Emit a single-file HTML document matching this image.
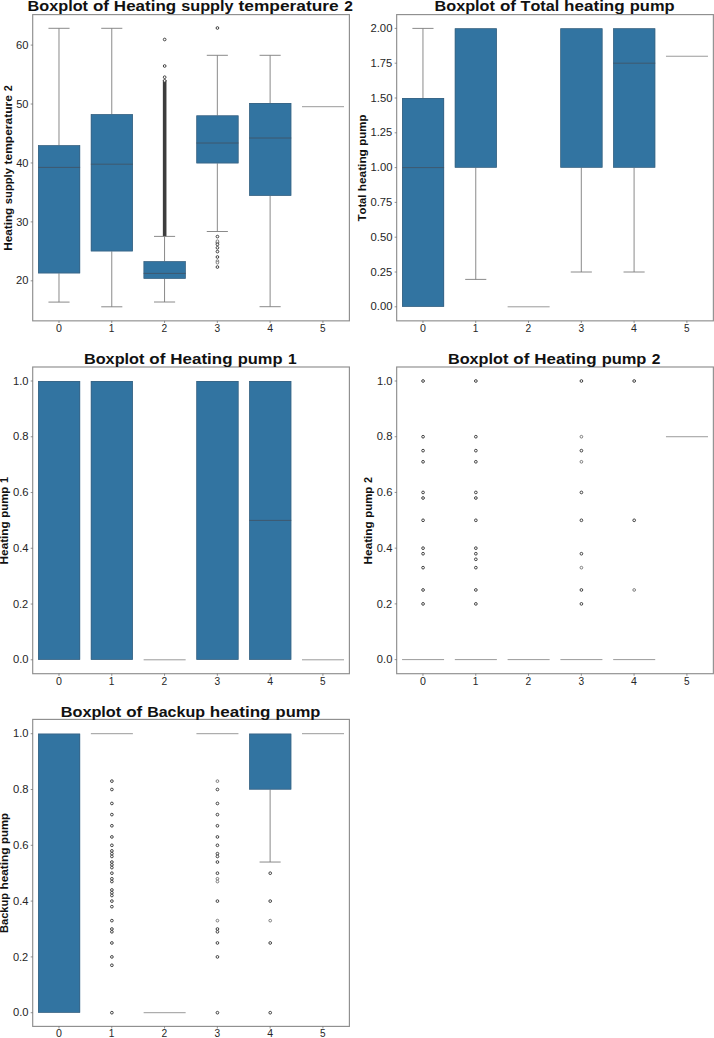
<!DOCTYPE html>
<html><head><meta charset="utf-8"><title>Boxplots</title>
<style>
html,body{margin:0;padding:0;background:#fff;}
body{width:714px;height:1038px;overflow:hidden;font-family:"Liberation Sans",sans-serif;}
svg{display:block;}
text{font-family:"Liberation Sans",sans-serif;fill:#262626;font-kerning:none;}
.t{font-size:10.7px;}
.ti{font-size:14.9px;font-weight:bold;fill:#111;}
.yl{font-size:10.3px;font-weight:bold;fill:#111;}
.o{fill:#fff;stroke:#404040;stroke-width:1;}
.ol{fill:#fff;stroke:#7c7c7c;stroke-width:1;}
</style></head><body>
<svg width="714" height="1038" viewBox="0 0 714 1038">
<rect width="714" height="1038" fill="#fff"/>
<rect x="32.7" y="14.6" width="316.7" height="306.25" fill="none" stroke="#8e8e8e" stroke-width="1.15"/>
<line x1="58.99" y1="320.85" x2="58.99" y2="322.95" stroke="#666" stroke-width="0.7"/>
<text x="55.97" y="331.7" class="t" textLength="5.92" lengthAdjust="spacingAndGlyphs">0</text>
<line x1="111.78" y1="320.85" x2="111.78" y2="322.95" stroke="#666" stroke-width="0.7"/>
<text x="108.87" y="331.7" class="t" textLength="5.63" lengthAdjust="spacingAndGlyphs">1</text>
<line x1="164.56" y1="320.85" x2="164.56" y2="322.95" stroke="#666" stroke-width="0.7"/>
<text x="161.53" y="331.7" class="t" textLength="5.69" lengthAdjust="spacingAndGlyphs">2</text>
<line x1="217.34" y1="320.85" x2="217.34" y2="322.95" stroke="#666" stroke-width="0.7"/>
<text x="214.46" y="331.7" class="t" textLength="5.65" lengthAdjust="spacingAndGlyphs">3</text>
<line x1="270.12" y1="320.85" x2="270.12" y2="322.95" stroke="#666" stroke-width="0.7"/>
<text x="267.14" y="331.7" class="t" textLength="5.87" lengthAdjust="spacingAndGlyphs">4</text>
<line x1="322.91" y1="320.85" x2="322.91" y2="322.95" stroke="#666" stroke-width="0.7"/>
<text x="320.04" y="331.7" class="t" textLength="5.57" lengthAdjust="spacingAndGlyphs">5</text>
<line x1="30.7" y1="45.1" x2="32.7" y2="45.1" stroke="#666" stroke-width="0.7"/>
<text x="16.04" y="48.75" class="t" textLength="12.45" lengthAdjust="spacingAndGlyphs">60</text>
<line x1="30.7" y1="104.03" x2="32.7" y2="104.03" stroke="#666" stroke-width="0.7"/>
<text x="16.24" y="107.68" class="t" textLength="12.25" lengthAdjust="spacingAndGlyphs">50</text>
<line x1="30.7" y1="162.96" x2="32.7" y2="162.96" stroke="#666" stroke-width="0.7"/>
<text x="16.15" y="166.61" class="t" textLength="12.34" lengthAdjust="spacingAndGlyphs">40</text>
<line x1="30.7" y1="221.89" x2="32.7" y2="221.89" stroke="#666" stroke-width="0.7"/>
<text x="16.24" y="225.54" class="t" textLength="12.24" lengthAdjust="spacingAndGlyphs">30</text>
<line x1="30.7" y1="280.82" x2="32.7" y2="280.82" stroke="#666" stroke-width="0.7"/>
<text x="16.07" y="284.47" class="t" textLength="12.42" lengthAdjust="spacingAndGlyphs">20</text>
<text x="27.54" y="10.7" class="ti" textLength="60.46" lengthAdjust="spacingAndGlyphs">Boxplot</text>
<text x="92.95" y="10.7" class="ti" textLength="16.01" lengthAdjust="spacingAndGlyphs">of</text>
<text x="113.89" y="10.7" class="ti" textLength="62.26" lengthAdjust="spacingAndGlyphs">Heating</text>
<text x="181.3" y="10.7" class="ti" textLength="52.22" lengthAdjust="spacingAndGlyphs">supply</text>
<text x="238.56" y="10.7" class="ti" textLength="100.18" lengthAdjust="spacingAndGlyphs">temperature</text>
<text x="344.35" y="10.7" class="ti" textLength="8.65" lengthAdjust="spacingAndGlyphs">2</text>
<g transform="translate(12.05 250.96) rotate(-90)">
<text x="0.11" y="0" class="yl" textLength="43.11" lengthAdjust="spacingAndGlyphs">Heating</text>
<text x="46.79" y="0" class="yl" textLength="36.16" lengthAdjust="spacingAndGlyphs">supply</text>
<text x="86.44" y="0" class="yl" textLength="69.37" lengthAdjust="spacingAndGlyphs">temperature</text>
<text x="159.7" y="0" class="yl" textLength="5.99" lengthAdjust="spacingAndGlyphs">2</text>
</g>
<path d="M58.99 28.3V145.3M48.44 28.3H69.55" stroke="#7d7d7d" stroke-width="0.9" fill="none"/>
<path d="M58.99 273.3V302.1M48.44 302.1H69.55" stroke="#7d7d7d" stroke-width="0.9" fill="none"/>
<rect x="38.08" y="145.3" width="42.03" height="128" fill="#3274a1"/>
<rect x="38.38" y="145.6" width="41.43" height="127.4" fill="none" stroke="#3d5f7a" stroke-width="0.6"/>
<line x1="38.08" y1="167.4" x2="80.11" y2="167.4" stroke="#3f566a" stroke-width="0.9"/>
<path d="M111.78 28.3V114.2M101.22 28.3H122.33" stroke="#7d7d7d" stroke-width="0.9" fill="none"/>
<path d="M111.78 251.3V306.8M101.22 306.8H122.33" stroke="#7d7d7d" stroke-width="0.9" fill="none"/>
<rect x="90.86" y="114.2" width="42.03" height="137.1" fill="#3274a1"/>
<rect x="91.16" y="114.5" width="41.43" height="136.5" fill="none" stroke="#3d5f7a" stroke-width="0.6"/>
<line x1="90.86" y1="164.2" x2="132.89" y2="164.2" stroke="#3f566a" stroke-width="0.9"/>
<rect x="162.86" y="80" width="3.6" height="156.3" fill="#3d3d3d"/>
<circle cx="164.66" cy="39.5" r="1.35" class="o"/>
<circle cx="164.66" cy="66" r="1.35" class="o"/>
<circle cx="164.66" cy="77.2" r="1.35" class="o"/>
<circle cx="164.66" cy="80.8" r="1.35" class="o"/>
<path d="M164.56 236.4V261.3M154 236.4H175.11" stroke="#7d7d7d" stroke-width="0.9" fill="none"/>
<path d="M164.56 278.7V302M154 302H175.11" stroke="#7d7d7d" stroke-width="0.9" fill="none"/>
<rect x="143.64" y="261.3" width="42.03" height="17.4" fill="#3274a1"/>
<rect x="143.94" y="261.6" width="41.43" height="16.8" fill="none" stroke="#3d5f7a" stroke-width="0.6"/>
<line x1="143.64" y1="273.4" x2="185.67" y2="273.4" stroke="#3f566a" stroke-width="0.9"/>
<circle cx="217.44" cy="28" r="1.35" class="o"/>
<path d="M217.34 55.3V115.5M206.78 55.3H227.9" stroke="#7d7d7d" stroke-width="0.9" fill="none"/>
<path d="M217.34 163.3V231.5M206.78 231.5H227.9" stroke="#7d7d7d" stroke-width="0.9" fill="none"/>
<rect x="196.43" y="115.5" width="42.03" height="47.8" fill="#3274a1"/>
<rect x="196.73" y="115.8" width="41.43" height="47.2" fill="none" stroke="#3d5f7a" stroke-width="0.6"/>
<line x1="196.43" y1="143" x2="238.45" y2="143" stroke="#3f566a" stroke-width="0.9"/>
<circle cx="217.44" cy="236.6" r="1.35" class="o"/>
<circle cx="217.44" cy="242.8" r="1.35" class="o"/>
<circle cx="217.44" cy="244.4" r="1.35" class="o"/>
<circle cx="217.44" cy="247.8" r="1.35" class="o"/>
<circle cx="217.44" cy="251.6" r="1.35" class="o"/>
<circle cx="217.44" cy="257" r="1.35" class="o"/>
<circle cx="217.44" cy="267.05" r="1.35" class="o"/>
<circle cx="217.44" cy="241.2" r="1.35" class="ol"/>
<circle cx="217.44" cy="261.1" r="1.35" class="ol"/>
<circle cx="217.44" cy="262.7" r="1.35" class="ol"/>
<path d="M270.12 55.3V103M259.57 55.3H280.68" stroke="#7d7d7d" stroke-width="0.9" fill="none"/>
<path d="M270.12 195.8V306.7M259.57 306.7H280.68" stroke="#7d7d7d" stroke-width="0.9" fill="none"/>
<rect x="249.21" y="103" width="42.03" height="92.8" fill="#3274a1"/>
<rect x="249.51" y="103.3" width="41.43" height="92.2" fill="none" stroke="#3d5f7a" stroke-width="0.6"/>
<line x1="249.21" y1="138" x2="291.24" y2="138" stroke="#3f566a" stroke-width="0.9"/>
<line x1="302" y1="106.7" x2="344.02" y2="106.7" stroke="#8f8f8f" stroke-width="0.9"/>
<rect x="396.67" y="14.6" width="316.7" height="306.25" fill="none" stroke="#8e8e8e" stroke-width="1.15"/>
<line x1="422.96" y1="320.85" x2="422.96" y2="322.95" stroke="#666" stroke-width="0.7"/>
<text x="419.94" y="331.7" class="t" textLength="5.92" lengthAdjust="spacingAndGlyphs">0</text>
<line x1="475.75" y1="320.85" x2="475.75" y2="322.95" stroke="#666" stroke-width="0.7"/>
<text x="472.84" y="331.7" class="t" textLength="5.63" lengthAdjust="spacingAndGlyphs">1</text>
<line x1="528.53" y1="320.85" x2="528.53" y2="322.95" stroke="#666" stroke-width="0.7"/>
<text x="525.5" y="331.7" class="t" textLength="5.69" lengthAdjust="spacingAndGlyphs">2</text>
<line x1="581.31" y1="320.85" x2="581.31" y2="322.95" stroke="#666" stroke-width="0.7"/>
<text x="578.43" y="331.7" class="t" textLength="5.65" lengthAdjust="spacingAndGlyphs">3</text>
<line x1="634.09" y1="320.85" x2="634.09" y2="322.95" stroke="#666" stroke-width="0.7"/>
<text x="631.11" y="331.7" class="t" textLength="5.87" lengthAdjust="spacingAndGlyphs">4</text>
<line x1="686.88" y1="320.85" x2="686.88" y2="322.95" stroke="#666" stroke-width="0.7"/>
<text x="684.01" y="331.7" class="t" textLength="5.57" lengthAdjust="spacingAndGlyphs">5</text>
<line x1="394.67" y1="28.4" x2="396.67" y2="28.4" stroke="#666" stroke-width="0.7"/>
<text x="370.43" y="32.05" class="t" textLength="22" lengthAdjust="spacingAndGlyphs">2.00</text>
<line x1="394.67" y1="63.2" x2="396.67" y2="63.2" stroke="#666" stroke-width="0.7"/>
<text x="370.54" y="66.85" class="t" textLength="21.72" lengthAdjust="spacingAndGlyphs">1.75</text>
<line x1="394.67" y1="98" x2="396.67" y2="98" stroke="#666" stroke-width="0.7"/>
<text x="370.53" y="101.65" class="t" textLength="21.9" lengthAdjust="spacingAndGlyphs">1.50</text>
<line x1="394.67" y1="132.8" x2="396.67" y2="132.8" stroke="#666" stroke-width="0.7"/>
<text x="370.54" y="136.45" class="t" textLength="21.72" lengthAdjust="spacingAndGlyphs">1.25</text>
<line x1="394.67" y1="167.6" x2="396.67" y2="167.6" stroke="#666" stroke-width="0.7"/>
<text x="370.53" y="171.25" class="t" textLength="21.9" lengthAdjust="spacingAndGlyphs">1.00</text>
<line x1="394.67" y1="202.4" x2="396.67" y2="202.4" stroke="#666" stroke-width="0.7"/>
<text x="370.48" y="206.05" class="t" textLength="21.79" lengthAdjust="spacingAndGlyphs">0.75</text>
<line x1="394.67" y1="237.2" x2="396.67" y2="237.2" stroke="#666" stroke-width="0.7"/>
<text x="370.47" y="240.85" class="t" textLength="21.97" lengthAdjust="spacingAndGlyphs">0.50</text>
<line x1="394.67" y1="272" x2="396.67" y2="272" stroke="#666" stroke-width="0.7"/>
<text x="370.48" y="275.65" class="t" textLength="21.79" lengthAdjust="spacingAndGlyphs">0.25</text>
<line x1="394.67" y1="306.8" x2="396.67" y2="306.8" stroke="#666" stroke-width="0.7"/>
<text x="370.47" y="310.45" class="t" textLength="21.97" lengthAdjust="spacingAndGlyphs">0.00</text>
<text x="434.5" y="10.7" class="ti" textLength="60.46" lengthAdjust="spacingAndGlyphs">Boxplot</text>
<text x="499.91" y="10.7" class="ti" textLength="16.01" lengthAdjust="spacingAndGlyphs">of</text>
<text x="520.55" y="10.7" class="ti" textLength="38.61" lengthAdjust="spacingAndGlyphs">Total</text>
<text x="564.06" y="10.7" class="ti" textLength="60.68" lengthAdjust="spacingAndGlyphs">heating</text>
<text x="629.82" y="10.7" class="ti" textLength="44.77" lengthAdjust="spacingAndGlyphs">pump</text>
<g transform="translate(366 221.2) rotate(-90)">
<text x="-0.1" y="0" class="yl" textLength="26.74" lengthAdjust="spacingAndGlyphs">Total</text>
<text x="30.03" y="0" class="yl" textLength="42.02" lengthAdjust="spacingAndGlyphs">heating</text>
<text x="75.57" y="0" class="yl" textLength="31" lengthAdjust="spacingAndGlyphs">pump</text>
</g>
<path d="M422.96 28.4V98M412.4 28.4H433.52" stroke="#7d7d7d" stroke-width="0.9" fill="none"/>
<rect x="402.05" y="98" width="42.03" height="208.8" fill="#3274a1"/>
<rect x="402.35" y="98.3" width="41.43" height="208.2" fill="none" stroke="#3d5f7a" stroke-width="0.6"/>
<line x1="402.05" y1="167.6" x2="444.07" y2="167.6" stroke="#3f566a" stroke-width="0.9"/>
<path d="M475.75 167.6V279.4M465.19 279.4H486.3" stroke="#7d7d7d" stroke-width="0.9" fill="none"/>
<rect x="454.83" y="28.4" width="42.03" height="139.2" fill="#3274a1"/>
<rect x="455.13" y="28.7" width="41.43" height="138.6" fill="none" stroke="#3d5f7a" stroke-width="0.6"/>
<line x1="507.62" y1="306.8" x2="549.64" y2="306.8" stroke="#8f8f8f" stroke-width="0.9"/>
<path d="M581.31 167.6V272M570.75 272H591.87" stroke="#7d7d7d" stroke-width="0.9" fill="none"/>
<rect x="560.4" y="28.4" width="42.03" height="139.2" fill="#3274a1"/>
<rect x="560.7" y="28.7" width="41.43" height="138.6" fill="none" stroke="#3d5f7a" stroke-width="0.6"/>
<path d="M634.09 167.6V272M623.54 272H644.65" stroke="#7d7d7d" stroke-width="0.9" fill="none"/>
<rect x="613.18" y="28.4" width="42.03" height="139.2" fill="#3274a1"/>
<rect x="613.48" y="28.7" width="41.43" height="138.6" fill="none" stroke="#3d5f7a" stroke-width="0.6"/>
<line x1="613.18" y1="63.2" x2="655.21" y2="63.2" stroke="#3f566a" stroke-width="0.9"/>
<line x1="665.97" y1="56.24" x2="707.99" y2="56.24" stroke="#8f8f8f" stroke-width="0.9"/>
<rect x="32.7" y="367" width="316.7" height="306.7" fill="none" stroke="#8e8e8e" stroke-width="1.15"/>
<line x1="58.99" y1="673.7" x2="58.99" y2="675.8" stroke="#666" stroke-width="0.7"/>
<text x="55.97" y="684.55" class="t" textLength="5.92" lengthAdjust="spacingAndGlyphs">0</text>
<line x1="111.78" y1="673.7" x2="111.78" y2="675.8" stroke="#666" stroke-width="0.7"/>
<text x="108.87" y="684.55" class="t" textLength="5.63" lengthAdjust="spacingAndGlyphs">1</text>
<line x1="164.56" y1="673.7" x2="164.56" y2="675.8" stroke="#666" stroke-width="0.7"/>
<text x="161.53" y="684.55" class="t" textLength="5.69" lengthAdjust="spacingAndGlyphs">2</text>
<line x1="217.34" y1="673.7" x2="217.34" y2="675.8" stroke="#666" stroke-width="0.7"/>
<text x="214.46" y="684.55" class="t" textLength="5.65" lengthAdjust="spacingAndGlyphs">3</text>
<line x1="270.12" y1="673.7" x2="270.12" y2="675.8" stroke="#666" stroke-width="0.7"/>
<text x="267.14" y="684.55" class="t" textLength="5.87" lengthAdjust="spacingAndGlyphs">4</text>
<line x1="322.91" y1="673.7" x2="322.91" y2="675.8" stroke="#666" stroke-width="0.7"/>
<text x="320.04" y="684.55" class="t" textLength="5.57" lengthAdjust="spacingAndGlyphs">5</text>
<line x1="30.7" y1="381" x2="32.7" y2="381" stroke="#666" stroke-width="0.7"/>
<text x="12.97" y="384.65" class="t" textLength="15.49" lengthAdjust="spacingAndGlyphs">1.0</text>
<line x1="30.7" y1="436.76" x2="32.7" y2="436.76" stroke="#666" stroke-width="0.7"/>
<text x="12.91" y="440.41" class="t" textLength="15.59" lengthAdjust="spacingAndGlyphs">0.8</text>
<line x1="30.7" y1="492.52" x2="32.7" y2="492.52" stroke="#666" stroke-width="0.7"/>
<text x="12.9" y="496.17" class="t" textLength="15.64" lengthAdjust="spacingAndGlyphs">0.6</text>
<line x1="30.7" y1="548.28" x2="32.7" y2="548.28" stroke="#666" stroke-width="0.7"/>
<text x="12.91" y="551.93" class="t" textLength="15.55" lengthAdjust="spacingAndGlyphs">0.4</text>
<line x1="30.7" y1="604.04" x2="32.7" y2="604.04" stroke="#666" stroke-width="0.7"/>
<text x="12.91" y="607.69" class="t" textLength="15.33" lengthAdjust="spacingAndGlyphs">0.2</text>
<line x1="30.7" y1="659.8" x2="32.7" y2="659.8" stroke="#666" stroke-width="0.7"/>
<text x="12.91" y="663.45" class="t" textLength="15.56" lengthAdjust="spacingAndGlyphs">0.0</text>
<text x="83.98" y="363.65" class="ti" textLength="60.46" lengthAdjust="spacingAndGlyphs">Boxplot</text>
<text x="149.39" y="363.65" class="ti" textLength="16.01" lengthAdjust="spacingAndGlyphs">of</text>
<text x="170.33" y="363.65" class="ti" textLength="62.26" lengthAdjust="spacingAndGlyphs">Heating</text>
<text x="237.7" y="363.65" class="ti" textLength="44.77" lengthAdjust="spacingAndGlyphs">pump</text>
<text x="287.94" y="363.65" class="ti" textLength="8.67" lengthAdjust="spacingAndGlyphs">1</text>
<g transform="translate(8.3 564.5) rotate(-90)">
<text x="0.11" y="0" class="yl" textLength="43.11" lengthAdjust="spacingAndGlyphs">Heating</text>
<text x="46.76" y="0" class="yl" textLength="31" lengthAdjust="spacingAndGlyphs">pump</text>
<text x="81.55" y="0" class="yl" textLength="6.01" lengthAdjust="spacingAndGlyphs">1</text>
</g>
<rect x="38.08" y="381" width="42.03" height="278.8" fill="#3274a1"/>
<rect x="38.38" y="381.3" width="41.43" height="278.2" fill="none" stroke="#3d5f7a" stroke-width="0.6"/>
<rect x="90.86" y="381" width="42.03" height="278.8" fill="#3274a1"/>
<rect x="91.16" y="381.3" width="41.43" height="278.2" fill="none" stroke="#3d5f7a" stroke-width="0.6"/>
<line x1="143.64" y1="659.8" x2="185.67" y2="659.8" stroke="#8f8f8f" stroke-width="0.9"/>
<rect x="196.43" y="381" width="42.03" height="278.8" fill="#3274a1"/>
<rect x="196.73" y="381.3" width="41.43" height="278.2" fill="none" stroke="#3d5f7a" stroke-width="0.6"/>
<rect x="249.21" y="381" width="42.03" height="278.8" fill="#3274a1"/>
<rect x="249.51" y="381.3" width="41.43" height="278.2" fill="none" stroke="#3d5f7a" stroke-width="0.6"/>
<line x1="249.21" y1="520.4" x2="291.24" y2="520.4" stroke="#3f566a" stroke-width="0.9"/>
<line x1="302" y1="659.8" x2="344.02" y2="659.8" stroke="#8f8f8f" stroke-width="0.9"/>
<rect x="396.67" y="367" width="316.7" height="306.7" fill="none" stroke="#8e8e8e" stroke-width="1.15"/>
<line x1="422.96" y1="673.7" x2="422.96" y2="675.8" stroke="#666" stroke-width="0.7"/>
<text x="419.94" y="684.55" class="t" textLength="5.92" lengthAdjust="spacingAndGlyphs">0</text>
<line x1="475.75" y1="673.7" x2="475.75" y2="675.8" stroke="#666" stroke-width="0.7"/>
<text x="472.84" y="684.55" class="t" textLength="5.63" lengthAdjust="spacingAndGlyphs">1</text>
<line x1="528.53" y1="673.7" x2="528.53" y2="675.8" stroke="#666" stroke-width="0.7"/>
<text x="525.5" y="684.55" class="t" textLength="5.69" lengthAdjust="spacingAndGlyphs">2</text>
<line x1="581.31" y1="673.7" x2="581.31" y2="675.8" stroke="#666" stroke-width="0.7"/>
<text x="578.43" y="684.55" class="t" textLength="5.65" lengthAdjust="spacingAndGlyphs">3</text>
<line x1="634.09" y1="673.7" x2="634.09" y2="675.8" stroke="#666" stroke-width="0.7"/>
<text x="631.11" y="684.55" class="t" textLength="5.87" lengthAdjust="spacingAndGlyphs">4</text>
<line x1="686.88" y1="673.7" x2="686.88" y2="675.8" stroke="#666" stroke-width="0.7"/>
<text x="684.01" y="684.55" class="t" textLength="5.57" lengthAdjust="spacingAndGlyphs">5</text>
<line x1="394.67" y1="381" x2="396.67" y2="381" stroke="#666" stroke-width="0.7"/>
<text x="376.94" y="384.65" class="t" textLength="15.49" lengthAdjust="spacingAndGlyphs">1.0</text>
<line x1="394.67" y1="436.72" x2="396.67" y2="436.72" stroke="#666" stroke-width="0.7"/>
<text x="376.88" y="440.37" class="t" textLength="15.59" lengthAdjust="spacingAndGlyphs">0.8</text>
<line x1="394.67" y1="492.44" x2="396.67" y2="492.44" stroke="#666" stroke-width="0.7"/>
<text x="376.87" y="496.09" class="t" textLength="15.64" lengthAdjust="spacingAndGlyphs">0.6</text>
<line x1="394.67" y1="548.16" x2="396.67" y2="548.16" stroke="#666" stroke-width="0.7"/>
<text x="376.88" y="551.81" class="t" textLength="15.55" lengthAdjust="spacingAndGlyphs">0.4</text>
<line x1="394.67" y1="603.88" x2="396.67" y2="603.88" stroke="#666" stroke-width="0.7"/>
<text x="376.88" y="607.53" class="t" textLength="15.33" lengthAdjust="spacingAndGlyphs">0.2</text>
<line x1="394.67" y1="659.6" x2="396.67" y2="659.6" stroke="#666" stroke-width="0.7"/>
<text x="376.88" y="663.25" class="t" textLength="15.56" lengthAdjust="spacingAndGlyphs">0.0</text>
<text x="447.95" y="363.65" class="ti" textLength="60.46" lengthAdjust="spacingAndGlyphs">Boxplot</text>
<text x="513.36" y="363.65" class="ti" textLength="16.01" lengthAdjust="spacingAndGlyphs">of</text>
<text x="534.3" y="363.65" class="ti" textLength="62.26" lengthAdjust="spacingAndGlyphs">Heating</text>
<text x="601.67" y="363.65" class="ti" textLength="44.77" lengthAdjust="spacingAndGlyphs">pump</text>
<text x="651.88" y="363.65" class="ti" textLength="8.65" lengthAdjust="spacingAndGlyphs">2</text>
<g transform="translate(372.3 564.5) rotate(-90)">
<text x="0.11" y="0" class="yl" textLength="43.11" lengthAdjust="spacingAndGlyphs">Heating</text>
<text x="46.76" y="0" class="yl" textLength="31" lengthAdjust="spacingAndGlyphs">pump</text>
<text x="81.53" y="0" class="yl" textLength="5.99" lengthAdjust="spacingAndGlyphs">2</text>
</g>
<line x1="402.05" y1="659.6" x2="444.07" y2="659.6" stroke="#8f8f8f" stroke-width="0.9"/>
<line x1="454.83" y1="659.6" x2="496.86" y2="659.6" stroke="#8f8f8f" stroke-width="0.9"/>
<line x1="507.62" y1="659.6" x2="549.64" y2="659.6" stroke="#8f8f8f" stroke-width="0.9"/>
<line x1="560.4" y1="659.6" x2="602.42" y2="659.6" stroke="#8f8f8f" stroke-width="0.9"/>
<line x1="613.18" y1="659.6" x2="655.21" y2="659.6" stroke="#8f8f8f" stroke-width="0.9"/>
<line x1="665.97" y1="436.72" x2="707.99" y2="436.72" stroke="#8f8f8f" stroke-width="0.9"/>
<circle cx="423.06" cy="381" r="1.35" class="o"/>
<circle cx="423.06" cy="436.72" r="1.35" class="o"/>
<circle cx="423.06" cy="450.65" r="1.35" class="o"/>
<circle cx="423.06" cy="461.79" r="1.35" class="o"/>
<circle cx="423.06" cy="492.44" r="1.35" class="o"/>
<circle cx="423.06" cy="498.01" r="1.35" class="o"/>
<circle cx="423.06" cy="520.3" r="1.35" class="o"/>
<circle cx="423.06" cy="548.16" r="1.35" class="o"/>
<circle cx="423.06" cy="553.73" r="1.35" class="o"/>
<circle cx="423.06" cy="567.66" r="1.35" class="o"/>
<circle cx="423.06" cy="589.95" r="1.35" class="o"/>
<circle cx="423.06" cy="603.88" r="1.35" class="o"/>
<circle cx="475.85" cy="381" r="1.35" class="o"/>
<circle cx="475.85" cy="436.72" r="1.35" class="o"/>
<circle cx="475.85" cy="450.65" r="1.35" class="o"/>
<circle cx="475.85" cy="461.79" r="1.35" class="o"/>
<circle cx="475.85" cy="492.44" r="1.35" class="o"/>
<circle cx="475.85" cy="498.01" r="1.35" class="o"/>
<circle cx="475.85" cy="520.3" r="1.35" class="o"/>
<circle cx="475.85" cy="548.16" r="1.35" class="o"/>
<circle cx="475.85" cy="553.73" r="1.35" class="o"/>
<circle cx="475.85" cy="559.3" r="1.35" class="o"/>
<circle cx="475.85" cy="567.66" r="1.35" class="o"/>
<circle cx="475.85" cy="589.95" r="1.35" class="o"/>
<circle cx="475.85" cy="603.88" r="1.35" class="o"/>
<circle cx="581.41" cy="381" r="1.35" class="o"/>
<circle cx="581.41" cy="450.65" r="1.35" class="o"/>
<circle cx="581.41" cy="492.44" r="1.35" class="o"/>
<circle cx="581.41" cy="520.3" r="1.35" class="o"/>
<circle cx="581.41" cy="553.73" r="1.35" class="o"/>
<circle cx="581.41" cy="589.95" r="1.35" class="o"/>
<circle cx="581.41" cy="603.88" r="1.35" class="o"/>
<circle cx="581.41" cy="436.72" r="1.35" class="ol"/>
<circle cx="581.41" cy="461.79" r="1.35" class="ol"/>
<circle cx="581.41" cy="567.66" r="1.35" class="ol"/>
<circle cx="634.19" cy="381" r="1.35" class="o"/>
<circle cx="634.19" cy="520.3" r="1.35" class="o"/>
<circle cx="634.19" cy="589.95" r="1.35" class="ol"/>
<rect x="32.7" y="719.4" width="316.7" height="307" fill="none" stroke="#8e8e8e" stroke-width="1.15"/>
<line x1="58.99" y1="1026.4" x2="58.99" y2="1028.5" stroke="#666" stroke-width="0.7"/>
<text x="55.97" y="1037.25" class="t" textLength="5.92" lengthAdjust="spacingAndGlyphs">0</text>
<line x1="111.78" y1="1026.4" x2="111.78" y2="1028.5" stroke="#666" stroke-width="0.7"/>
<text x="108.87" y="1037.25" class="t" textLength="5.63" lengthAdjust="spacingAndGlyphs">1</text>
<line x1="164.56" y1="1026.4" x2="164.56" y2="1028.5" stroke="#666" stroke-width="0.7"/>
<text x="161.53" y="1037.25" class="t" textLength="5.69" lengthAdjust="spacingAndGlyphs">2</text>
<line x1="217.34" y1="1026.4" x2="217.34" y2="1028.5" stroke="#666" stroke-width="0.7"/>
<text x="214.46" y="1037.25" class="t" textLength="5.65" lengthAdjust="spacingAndGlyphs">3</text>
<line x1="270.12" y1="1026.4" x2="270.12" y2="1028.5" stroke="#666" stroke-width="0.7"/>
<text x="267.14" y="1037.25" class="t" textLength="5.87" lengthAdjust="spacingAndGlyphs">4</text>
<line x1="322.91" y1="1026.4" x2="322.91" y2="1028.5" stroke="#666" stroke-width="0.7"/>
<text x="320.04" y="1037.25" class="t" textLength="5.57" lengthAdjust="spacingAndGlyphs">5</text>
<line x1="30.7" y1="733.7" x2="32.7" y2="733.7" stroke="#666" stroke-width="0.7"/>
<text x="12.97" y="737.35" class="t" textLength="15.49" lengthAdjust="spacingAndGlyphs">1.0</text>
<line x1="30.7" y1="789.5" x2="32.7" y2="789.5" stroke="#666" stroke-width="0.7"/>
<text x="12.91" y="793.15" class="t" textLength="15.59" lengthAdjust="spacingAndGlyphs">0.8</text>
<line x1="30.7" y1="845.3" x2="32.7" y2="845.3" stroke="#666" stroke-width="0.7"/>
<text x="12.9" y="848.95" class="t" textLength="15.64" lengthAdjust="spacingAndGlyphs">0.6</text>
<line x1="30.7" y1="901.1" x2="32.7" y2="901.1" stroke="#666" stroke-width="0.7"/>
<text x="12.91" y="904.75" class="t" textLength="15.55" lengthAdjust="spacingAndGlyphs">0.4</text>
<line x1="30.7" y1="956.9" x2="32.7" y2="956.9" stroke="#666" stroke-width="0.7"/>
<text x="12.91" y="960.55" class="t" textLength="15.33" lengthAdjust="spacingAndGlyphs">0.2</text>
<line x1="30.7" y1="1012.7" x2="32.7" y2="1012.7" stroke="#666" stroke-width="0.7"/>
<text x="12.91" y="1016.35" class="t" textLength="15.56" lengthAdjust="spacingAndGlyphs">0.0</text>
<text x="60.74" y="716.5" class="ti" textLength="60.46" lengthAdjust="spacingAndGlyphs">Boxplot</text>
<text x="126.15" y="716.5" class="ti" textLength="16.01" lengthAdjust="spacingAndGlyphs">of</text>
<text x="147.15" y="716.5" class="ti" textLength="57.83" lengthAdjust="spacingAndGlyphs">Backup</text>
<text x="209.88" y="716.5" class="ti" textLength="60.68" lengthAdjust="spacingAndGlyphs">heating</text>
<text x="275.64" y="716.5" class="ti" textLength="44.77" lengthAdjust="spacingAndGlyphs">pump</text>
<g transform="translate(8.3 933.15) rotate(-90)">
<text x="0.15" y="0" class="yl" textLength="40.04" lengthAdjust="spacingAndGlyphs">Backup</text>
<text x="43.59" y="0" class="yl" textLength="42.02" lengthAdjust="spacingAndGlyphs">heating</text>
<text x="89.13" y="0" class="yl" textLength="31" lengthAdjust="spacingAndGlyphs">pump</text>
</g>
<rect x="38.08" y="733.7" width="42.03" height="279" fill="#3274a1"/>
<rect x="38.38" y="734" width="41.43" height="278.4" fill="none" stroke="#3d5f7a" stroke-width="0.6"/>
<line x1="90.86" y1="733.7" x2="132.89" y2="733.7" stroke="#8f8f8f" stroke-width="0.9"/>
<circle cx="111.88" cy="781.13" r="1.35" class="o"/>
<circle cx="111.88" cy="789.5" r="1.35" class="o"/>
<circle cx="111.88" cy="803.45" r="1.35" class="o"/>
<circle cx="111.88" cy="814.61" r="1.35" class="o"/>
<circle cx="111.88" cy="825.77" r="1.35" class="o"/>
<circle cx="111.88" cy="836.93" r="1.35" class="o"/>
<circle cx="111.88" cy="845.3" r="1.35" class="o"/>
<circle cx="111.88" cy="850.88" r="1.35" class="o"/>
<circle cx="111.88" cy="853.67" r="1.35" class="o"/>
<circle cx="111.88" cy="856.46" r="1.35" class="o"/>
<circle cx="111.88" cy="862.04" r="1.35" class="o"/>
<circle cx="111.88" cy="864.83" r="1.35" class="o"/>
<circle cx="111.88" cy="867.62" r="1.35" class="o"/>
<circle cx="111.88" cy="873.2" r="1.35" class="o"/>
<circle cx="111.88" cy="878.78" r="1.35" class="o"/>
<circle cx="111.88" cy="881.57" r="1.35" class="o"/>
<circle cx="111.88" cy="889.94" r="1.35" class="o"/>
<circle cx="111.88" cy="892.73" r="1.35" class="o"/>
<circle cx="111.88" cy="895.52" r="1.35" class="o"/>
<circle cx="111.88" cy="901.1" r="1.35" class="o"/>
<circle cx="111.88" cy="906.68" r="1.35" class="o"/>
<circle cx="111.88" cy="920.63" r="1.35" class="o"/>
<circle cx="111.88" cy="929" r="1.35" class="o"/>
<circle cx="111.88" cy="931.79" r="1.35" class="o"/>
<circle cx="111.88" cy="942.95" r="1.35" class="o"/>
<circle cx="111.88" cy="956.9" r="1.35" class="o"/>
<circle cx="111.88" cy="965.27" r="1.35" class="o"/>
<circle cx="111.88" cy="1012.7" r="1.35" class="o"/>
<line x1="143.64" y1="1012.7" x2="185.67" y2="1012.7" stroke="#8f8f8f" stroke-width="0.9"/>
<line x1="196.43" y1="733.7" x2="238.45" y2="733.7" stroke="#8f8f8f" stroke-width="0.9"/>
<circle cx="217.44" cy="789.5" r="1.35" class="o"/>
<circle cx="217.44" cy="803.45" r="1.35" class="o"/>
<circle cx="217.44" cy="814.61" r="1.35" class="o"/>
<circle cx="217.44" cy="825.77" r="1.35" class="o"/>
<circle cx="217.44" cy="836.93" r="1.35" class="o"/>
<circle cx="217.44" cy="845.3" r="1.35" class="o"/>
<circle cx="217.44" cy="853.67" r="1.35" class="o"/>
<circle cx="217.44" cy="856.46" r="1.35" class="o"/>
<circle cx="217.44" cy="862.04" r="1.35" class="o"/>
<circle cx="217.44" cy="873.2" r="1.35" class="o"/>
<circle cx="217.44" cy="901.1" r="1.35" class="o"/>
<circle cx="217.44" cy="929" r="1.35" class="o"/>
<circle cx="217.44" cy="931.79" r="1.35" class="o"/>
<circle cx="217.44" cy="942.95" r="1.35" class="o"/>
<circle cx="217.44" cy="956.9" r="1.35" class="o"/>
<circle cx="217.44" cy="1012.7" r="1.35" class="o"/>
<circle cx="217.44" cy="781.13" r="1.35" class="ol"/>
<circle cx="217.44" cy="878.78" r="1.35" class="ol"/>
<circle cx="217.44" cy="881.57" r="1.35" class="ol"/>
<circle cx="217.44" cy="920.63" r="1.35" class="ol"/>
<path d="M270.12 789.5V862.04M259.57 862.04H280.68" stroke="#7d7d7d" stroke-width="0.9" fill="none"/>
<rect x="249.21" y="733.7" width="42.03" height="55.8" fill="#3274a1"/>
<rect x="249.51" y="734" width="41.43" height="55.2" fill="none" stroke="#3d5f7a" stroke-width="0.6"/>
<circle cx="270.22" cy="873.2" r="1.35" class="o"/>
<circle cx="270.22" cy="901.1" r="1.35" class="o"/>
<circle cx="270.22" cy="942.95" r="1.35" class="o"/>
<circle cx="270.22" cy="1012.7" r="1.35" class="o"/>
<circle cx="270.22" cy="920.63" r="1.35" class="ol"/>
<line x1="302" y1="733.7" x2="344.02" y2="733.7" stroke="#8f8f8f" stroke-width="0.9"/>
</svg>
</body></html>
